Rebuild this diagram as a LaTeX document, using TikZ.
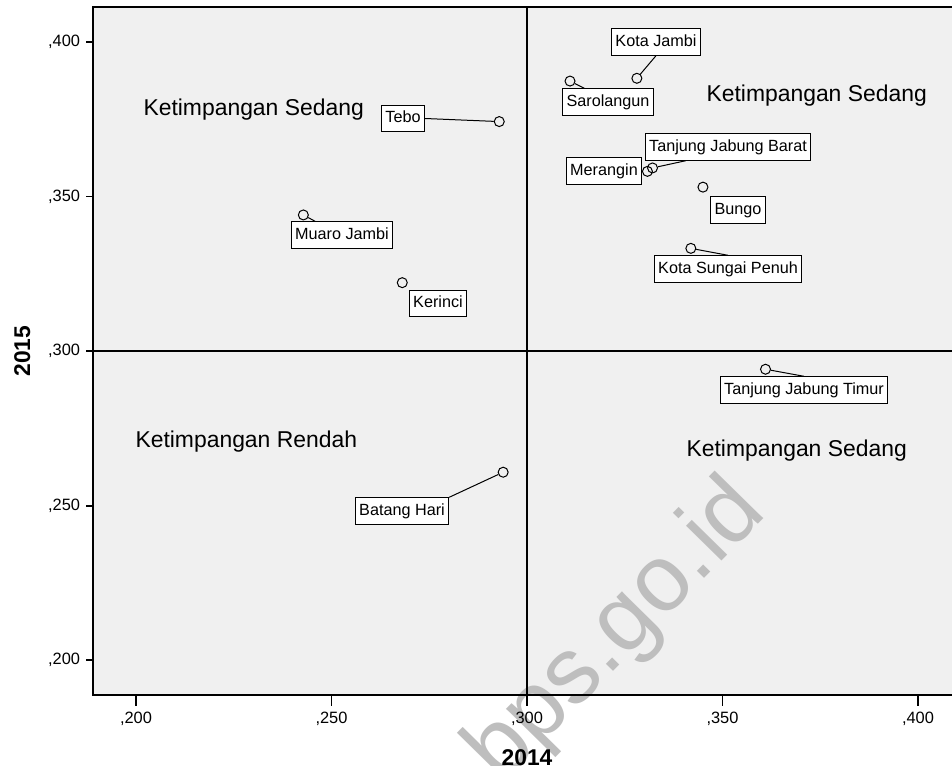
\documentclass[tikz,border=0pt]{standalone}
\usepackage{fontspec}
\setmainfont{Liberation Sans}
\usetikzlibrary{positioning}
\usetikzlibrary{calc}
\definecolor{plotgrey}{HTML}{F0F0F0}
\definecolor{markgrey}{HTML}{BEBEBE}
\tikzset{
    % Open circle used for every regency
    data point/.style={draw, circle, minimum size=10pt, inner sep=0,
        line width=1pt},
%
    % Boxed name next to a data point
    name box/.style={draw, fill=white, line width=0.8pt,
        font=\fontsize{16.2}{19}\selectfont, text height=12pt, text depth=3.6pt,
        inner xsep=4pt, inner ysep=5.5pt},
%
    % Thin line from a point to its name
    leader/.style={line width=1pt},
%
    % Large text naming a quadrant
    quadrant text/.style={anchor=base west, font=\fontsize{22.9}{27}\selectfont},
%
    % Axis numbers and titles
    tick text/.style={font=\fontsize{16.4}{19}\selectfont},
    axis title/.style={font=\fontsize{22.8}{26}\selectfont\bfseries}}

\begin{document}
\begin{tikzpicture}[x=1pt, y=-1pt]
\useasboundingbox (0,0) rectangle (952,765);

% Plot area and watermark
\fill[plotgrey] (93,7) rectangle (952,695);
\node[anchor=base west, rotate=45.5, text=markgrey, inner sep=0,
    font=\fontsize{94}{100}\selectfont] (mark) at (501,786) {bps.go.id};

% Quadrant lines and frame
\draw[line width=1.2pt] (527,7) -- (527,695);
\draw[line width=1.2pt] (93,351) -- (952,351);
\draw[line width=1.5pt] (952,7) -| (93,695) -- (952,695);

% Ticks of both axes
\foreach \v in {200,250,...,400} {
    \draw[line width=1.8pt] (86,{351-(\v-300)*3.092}) -- (93,{351-(\v-300)*3.092})
        node[tick text, anchor=east, pos=0, inner sep=0, xshift=-5pt] {,\v};
    \draw[line width=1.8pt] ({527+(\v-300)*3.91},695) -- ({527+(\v-300)*3.91},706)
        node[tick text, anchor=north, pos=1, inner sep=0, yshift=-5pt] {,\v};
}
\node[axis title, anchor=base] (x title) at (527,765.5) {2014};
\node[axis title, anchor=base, rotate=90] (y title) at (30,351) {2015};

% Quadrant names
\node[quadrant text] (q top left) at (140,115) {Ketimpangan Sedang};
\node[quadrant text] (q top right) at (703,102) {Ketimpangan Sedang};
\node[quadrant text] (q low left) at (132,447) {Ketimpangan Rendah};
\node[quadrant text] (q low right) at (683,456) {Ketimpangan Sedang};

% Data points, in thousandths of the index
\begin{scope}[shift={(-646,1278.6)}, x=3.91pt, y=3.092pt]
\node[data point] (kota jambi) at (328.1,388.2) {};
\node[data point] (sarolangun) at (311.0,387.3) {};
\node[data point] (tj barat) at (332.1,359.2) {};
\node[data point] (merangin) at (330.8,358.1) {};
\node[data point] (bungo) at (345.0,353.0) {};
\node[data point] (sungai penuh) at (341.9,333.2) {};
\node[data point] (tj timur) at (361.0,294.1) {};
\node[data point] (tebo) at (292.9,374.2) {};
\node[data point] (muaro jambi) at (242.8,344.0) {};
\node[data point] (kerinci) at (268.1,322.1) {};
\node[data point] (batang hari) at (293.9,260.8) {};
\end{scope}

% Names of the points
\node[name box] (kota jambi label) at (656,42) {Kota Jambi};
\node[name box] (sarolangun label) at (608,102) {Sarolangun};
\node[name box] (tj barat label) at (728,147) {Tanjung Jabung Barat};
\node[name box] (merangin label) at (604,171) {Merangin};
\node[name box] (bungo label) at (738,210) {Bungo};
\node[name box] (sungai penuh label) at (728,269) {Kota Sungai Penuh};
\node[name box] (tj timur label) at (804,390) {Tanjung Jabung Timur};
\node[name box] (tebo label) at (403,118.5) {Tebo};
\node[name box] (muaro jambi label) at (342,235) {Muaro Jambi};
\node[name box] (kerinci label) at (438,303.5) {Kerinci};
\node[name box] (batang hari label) at (402,511) {Batang Hari};

\draw[leader] (kota jambi) -- (kota jambi label.south);
\draw[leader] (sarolangun) -- (sarolangun label.150);
\draw[leader] (tj barat) -- (tj barat label.198);
\draw[leader] (sungai penuh) -- (sungai penuh label.north);
\draw[leader] (tj timur) -- (tj timur label.north);
\draw[leader] (tebo) -- (tebo label.east);
\draw[leader] (muaro jambi) -- (muaro jambi label.153);
\draw[leader] (batang hari) -- (batang hari label.north east);
\end{tikzpicture}
\end{document}
